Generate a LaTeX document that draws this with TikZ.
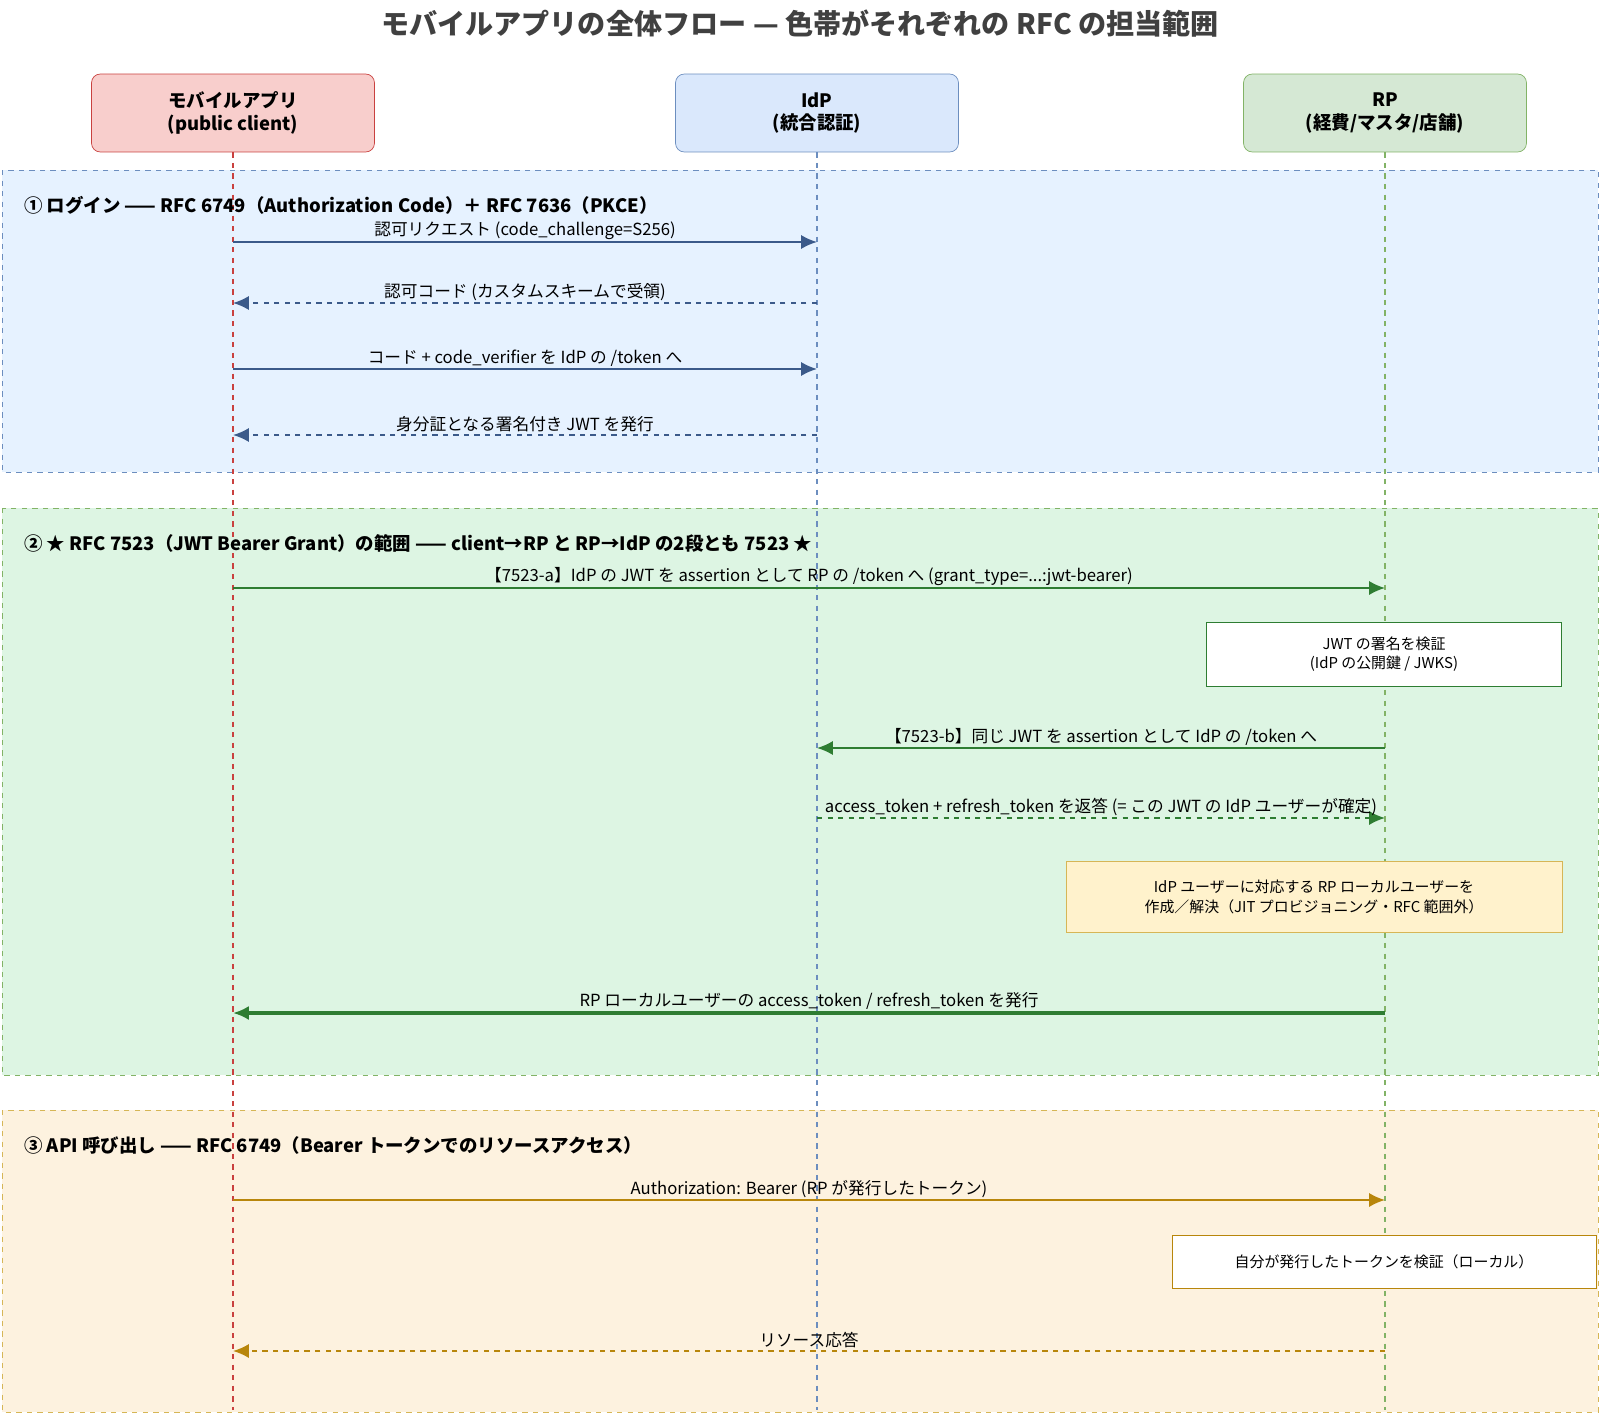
\documentclass[tikz,border=0pt]{standalone}
\usepackage{fontspec}
\setmainfont{Noto Sans CJK JP}
\usetikzlibrary{arrows.meta,positioning}
\definecolor{redln}{HTML}{C9413F}
\definecolor{blueln}{HTML}{6C8EBF}
\definecolor{greenln}{HTML}{82B366}
\definecolor{goldln}{HTML}{D6B656}
\definecolor{bluearr}{HTML}{3B5A8A}
\definecolor{greenarr}{HTML}{2E7D32}
\definecolor{goldarr}{HTML}{B8860B}
\tikzset{
  head/.style={draw, rounded corners=5pt, minimum width=5.66cm, minimum height=1.56cm, align=center, font=\fontsize{10.5}{13}\selectfont\bfseries},
  life/.style={dashed, line width=1pt},
  msg/.style={-{Latex[length=9pt,width=8pt]}, line width=1.1pt},
  lbl/.style={font=\fontsize{9.5}{11}\selectfont, text=black, inner sep=1pt},
  note/.style={draw, align=center, font=\fontsize{8.5}{11}\selectfont},
  sect/.style={anchor=west, font=\fontsize{10.5}{12}\selectfont\bfseries}
}
\begin{document}
\begin{tikzpicture}[x=0.02cm,y=-0.02cm]
\useasboundingbox (0,0) rectangle (1600,1417);
% frames
\draw[blueln, dashed, fill={rgb,255:red,230;green,242;blue,255}] (2,170) rectangle (1598,472);
\draw[greenln, dashed, fill={rgb,255:red,221;green,245;blue,227}] (2,508) rectangle (1598,1075);
\draw[goldln, dashed, fill={rgb,255:red,253;green,242;blue,223}] (2,1110) rectangle (1598,1412);
\node[font=\fontsize{16}{19}\selectfont\bfseries, text=black!75] (title) at (800,24) {モバイルアプリの全体フロー — 色帯がそれぞれの RFC の担当範囲};
% participants
\node[head, draw=redln, fill={rgb,255:red,248;green,206;blue,204}] (app) at (233,113) {モバイルアプリ\\(public client)};
\node[head, draw=blueln, fill={rgb,255:red,218;green,232;blue,252}] (idp) at (817,113) {IdP\\(統合認証)};
\node[head, draw=greenln, fill={rgb,255:red,213;green,232;blue,212}] (rp) at (1385,113) {RP\\(経費/マスタ/店舗)};
\coordinate (appE) at (233,1410);
\coordinate (idpE) at (817,1410);
\coordinate (rpE) at (1385,1410);
\draw[life, redln] (app) -- (appE);
\draw[life, blueln] (idp) -- (idpE);
\draw[life, greenln] (rp) -- (rpE);
% section 1
\node[sect] (s1) at (18,205) {① ログイン —— RFC 6749（Authorization Code）＋ RFC 7636（PKCE）};
\coordinate (a1) at (233,242); \coordinate (b1) at (817,242);
\draw[msg, bluearr] (a1) -- node[lbl, above] {認可リクエスト (code\_challenge=S256)} (b1);
\coordinate (a2) at (233,303); \coordinate (b2) at (817,303);
\draw[msg, bluearr, dashed] (b2) -- node[lbl, above] {認可コード (カスタムスキームで受領)} (a2);
\coordinate (a3) at (233,369); \coordinate (b3) at (817,369);
\draw[msg, bluearr] (a3) -- node[lbl, above] {コード + code\_verifier を IdP の /token へ} (b3);
\coordinate (a4) at (233,435); \coordinate (b4) at (817,435);
\draw[msg, bluearr, dashed] (b4) -- node[lbl, above] {身分証となる署名付き JWT を発行} (a4);
% section 2
\node[sect] (s2) at (18,543) {② ★ RFC 7523（JWT Bearer Grant）の範囲 —— client→RP と RP→IdP の2段とも 7523 ★};
\coordinate (a5) at (233,588); \coordinate (c5) at (1385,588);
\draw[msg, greenarr] (a5) -- node[lbl, above] {【7523-a】IdP の JWT を assertion として RP の /token へ (grant\_type=...:jwt-bearer)} (c5);
\node[note, draw=greenarr, fill=white, minimum width=7.1cm, minimum height=1.28cm] (verify) at (1384,654) {JWT の署名を検証\\(IdP の公開鍵 / JWKS)};
\coordinate (b6) at (817,748); \coordinate (c6) at (1385,748);
\draw[msg, greenarr] (c6) -- node[lbl, above] {【7523-b】同じ JWT を assertion として IdP の /token へ} (b6);
\coordinate (b7) at (817,818); \coordinate (c7) at (1385,818);
\draw[msg, greenarr, dashed] (b7) -- node[lbl, above] {access\_token + refresh\_token を返答 (= この JWT の IdP ユーザーが確定)} (c7);
\node[note, draw=goldln, fill={rgb,255:red,255;green,242;blue,204}, minimum width=9.92cm, minimum height=1.42cm] (jit) at (1314,897) {IdP ユーザーに対応する RP ローカルユーザーを\\作成／解決（JIT プロビジョニング・RFC 範囲外）};
\coordinate (a8) at (233,1013); \coordinate (c8) at (1385,1013);
\draw[msg, greenarr, line width=1.8pt] (c8) -- node[lbl, above] {RP ローカルユーザーの access\_token / refresh\_token を発行} (a8);
% section 3
\node[sect] (s3) at (18,1145) {③ API 呼び出し —— RFC 6749（Bearer トークンでのリソースアクセス）};
\coordinate (a9) at (233,1200); \coordinate (c9) at (1385,1200);
\draw[msg, goldarr] (a9) -- node[lbl, above] {Authorization: Bearer (RP が発行したトークン)} (c9);
\node[note, draw=goldarr, fill=white, minimum width=8.48cm, minimum height=1.06cm] (check) at (1384,1262) {自分が発行したトークンを検証（ローカル）};
\coordinate (a10) at (233,1351); \coordinate (c10) at (1385,1351);
\draw[msg, goldarr, dashed] (c10) -- node[lbl, above] {リソース応答} (a10);
\end{tikzpicture}
\end{document}
